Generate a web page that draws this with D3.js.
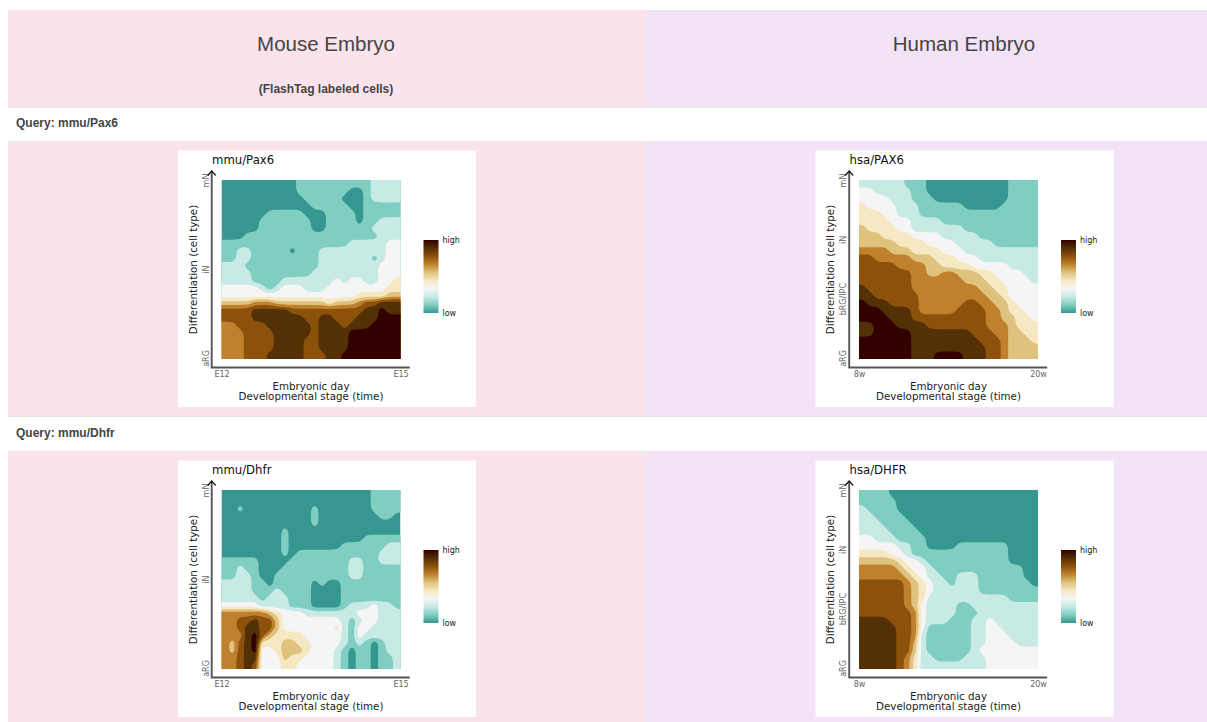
<!DOCTYPE html>
<html>
<head>
<meta charset="utf-8">
<script src="https://cdn.jsdelivr.net/npm/d3@7"></script>
<style>
  body { margin: 0; background: #fff; }
  svg { display: block; }
  .page { font-family: "Liberation Sans", Arial, sans-serif; }
  .plot text { font-family: "DejaVu Sans", sans-serif; }
</style>
</head>
<body>
<div id="chart"></div>
<script>
// expression level bands, low to high
var levelColors = ["#35978f", "#80cdc1", "#c7eae5", "#f5f5f5", "#f6e8c3", "#dfc27d", "#bf812d", "#8c510a", "#543005", "#330000"];
var thresholds = [-1, 0.5, 1.5, 2.5, 3.5, 4.5, 5.5, 6.5, 7.5, 8.5];

var mouseStages = ["E12", "E15"];
var humanStages = ["8w", "20w"];
var mouseCells = ["aRG", "iN", "mN"];
var humanCells = ["aRG", "bRG/IPC", "iN", "mN"];
var legendLabels = ["low", "high"];

// 24 x 24 cells, top row first
var mmuPax6 = [
  [0,0,0,0,0,0,0,0,0,0,1,1,1,1,1,1,1,1,1,1,2,2,2,2],
  [0,0,0,0,0,0,0,0,0,0,1,1,1,1,1,1,1,0,0,1,2,2,2,2],
  [0,0,0,0,0,0,0,0,0,0,0,1,1,1,1,1,0,0,0,1,2,2,2,2],
  [0,0,0,0,0,0,0,0,0,0,0,0,1,1,1,1,1,0,0,1,1,1,1,1],
  [0,0,0,0,0,0,1,1,1,1,1,0,0,0,1,1,1,1,0,1,1,1,1,1],
  [0,0,0,0,0,1,1,1,1,1,1,1,0,0,1,1,1,1,0,1,1,2,2,2],
  [0,0,0,0,0,1,1,1,1,1,1,1,0,0,1,1,1,1,1,1,2,2,2,2],
  [0,0,0,1,1,1,1,1,1,1,1,1,1,1,1,1,1,1,1,1,1,2,2,2],
  [1,1,1,1,1,1,1,1,1,1,1,1,1,1,1,1,1,2,2,2,2,2,3,3],
  [1,1,2,2,1,1,1,1,1,0,1,1,1,2,2,2,2,2,2,2,2,2,3,3],
  [1,1,2,2,1,1,1,1,1,1,1,1,1,2,2,2,2,2,2,2,1,2,3,3],
  [2,2,2,1,1,1,1,1,1,1,1,1,1,2,2,2,2,2,2,2,2,3,3,3],
  [2,2,2,2,1,1,1,1,1,1,1,1,2,2,2,2,2,2,2,2,2,3,3,3],
  [2,2,2,2,1,1,1,1,2,2,2,2,2,2,2,3,2,3,3,2,2,3,3,4],
  [3,3,3,3,3,2,1,2,3,3,3,2,2,2,3,3,3,3,3,3,3,3,4,4],
  [3,3,3,3,3,3,3,3,3,3,3,3,3,3,3,3,3,3,4,4,4,4,5,5],
  [5,5,5,5,6,6,6,5,5,5,5,5,5,5,4,5,5,5,6,7,7,8,8,8],
  [7,7,7,7,8,8,8,8,8,7,7,7,7,7,7,7,7,7,7,8,8,9,8,8],
  [7,7,7,7,8,8,8,8,8,8,8,7,7,8,8,7,7,7,8,8,8,9,9,9],
  [6,6,7,7,7,7,8,8,8,8,8,8,7,8,8,8,7,8,8,8,9,9,9,9],
  [6,6,6,7,7,7,7,8,8,8,8,8,7,8,8,8,8,9,9,9,9,9,9,9],
  [6,6,6,7,7,7,7,8,8,8,8,7,7,8,8,8,8,9,9,9,9,9,9,9],
  [6,6,6,7,7,7,7,8,8,8,8,7,7,8,8,8,8,9,9,9,9,9,9,9],
  [6,6,6,7,7,7,8,8,8,8,8,7,7,7,8,8,9,9,9,9,9,9,9,9]
];

var hsaPax6 = [
  [2,2,2,2,2,2,1,1,1,0,0,0,0,0,0,0,0,0,0,0,1,1,1,1],
  [3,3,2,2,2,2,2,1,1,0,0,0,0,0,0,0,0,0,0,0,1,1,1,1],
  [3,3,3,3,2,2,2,1,1,1,0,0,0,0,0,0,0,0,0,0,1,1,1,1],
  [4,3,3,3,3,2,2,2,1,1,1,1,1,1,0,0,0,0,0,1,1,1,1,1],
  [4,4,4,3,3,2,2,2,1,1,1,1,1,1,1,1,1,1,1,1,1,1,1,1],
  [4,4,4,4,3,3,3,2,2,2,2,1,1,1,1,1,1,1,1,1,1,1,1,1],
  [5,4,4,4,4,3,3,2,2,2,2,2,2,2,1,1,1,1,1,1,1,1,1,1],
  [5,5,5,4,4,4,4,3,3,3,3,2,2,2,2,2,1,1,1,1,1,1,1,1],
  [5,5,5,5,5,4,4,4,4,3,3,3,3,2,2,2,2,2,1,1,1,1,1,1],
  [6,6,6,6,5,5,5,4,4,4,4,3,3,3,2,2,2,2,2,2,2,2,2,2],
  [7,7,6,6,6,6,6,5,5,5,4,4,4,3,3,3,2,2,2,2,2,2,2,2],
  [7,7,7,7,7,6,6,6,6,5,5,4,4,4,4,3,3,3,3,3,2,2,2,2],
  [7,7,7,7,7,7,7,6,6,5,5,6,6,5,5,5,4,4,3,3,3,3,2,2],
  [7,7,7,7,7,7,7,6,6,6,6,6,6,6,5,5,5,4,4,3,3,3,3,2],
  [8,7,7,7,7,7,7,6,6,6,6,6,6,6,6,6,5,5,4,4,3,3,3,3],
  [8,8,7,7,7,7,7,7,6,6,6,6,6,6,6,6,6,5,5,4,3,3,3,3],
  [9,8,8,8,7,7,7,7,6,6,6,6,6,6,7,7,6,6,5,5,4,3,3,3],
  [9,9,9,8,8,8,8,7,6,6,6,6,6,7,7,7,7,6,6,5,4,4,3,3],
  [9,9,9,9,8,8,8,7,7,7,7,7,7,7,7,7,7,6,6,5,5,4,4,3],
  [8,8,9,9,9,8,8,8,8,7,7,7,7,7,7,7,7,6,6,6,5,4,4,4],
  [8,8,9,9,9,9,9,8,8,8,8,8,8,8,8,7,7,7,6,6,5,5,4,4],
  [9,9,9,9,9,9,9,8,8,8,8,8,8,8,8,8,7,7,7,6,5,5,5,4],
  [9,9,9,9,9,9,9,8,8,8,8,8,8,8,8,8,8,7,7,6,5,5,5,5],
  [9,9,9,9,9,9,9,8,8,8,9,9,9,9,8,8,8,7,7,6,5,5,5,5]
];

var mmuDhfr = [
  [0,0,0,0,0,0,0,0,0,0,0,0,0,0,0,0,0,0,0,0,1,1,1,1],
  [0,0,0,0,0,0,0,0,0,0,0,0,0,0,0,0,0,0,0,0,1,1,1,1],
  [0,0,1,0,0,0,0,0,0,0,0,0,1,0,0,0,0,0,0,0,1,1,1,1],
  [0,0,0,0,0,0,0,0,0,0,0,0,1,0,0,0,0,0,0,0,0,1,1,0],
  [0,0,0,0,0,0,0,0,0,0,0,0,1,0,0,0,0,0,0,0,0,0,0,0],
  [0,0,0,0,0,0,0,0,1,0,0,0,0,0,0,0,0,0,0,0,0,0,0,0],
  [0,0,0,0,0,0,0,0,1,0,0,0,0,0,0,0,0,0,0,1,1,1,1,1],
  [0,0,0,0,0,0,0,0,1,0,0,0,0,0,0,0,1,1,1,1,1,1,2,2],
  [0,0,0,0,0,0,0,0,1,0,1,1,1,1,1,1,1,1,1,1,1,2,2,2],
  [1,1,1,1,1,0,0,0,0,1,1,1,1,1,1,1,1,2,2,1,1,2,2,2],
  [1,1,2,1,1,0,0,0,1,1,1,1,1,1,1,1,1,2,2,1,1,1,1,1],
  [1,1,2,2,1,0,0,1,1,1,1,1,1,1,1,1,1,2,2,1,1,1,1,1],
  [2,2,2,2,1,1,0,1,1,1,1,1,0,1,0,0,1,1,1,1,1,1,1,1],
  [2,2,2,2,1,1,1,2,1,1,1,1,0,0,0,0,1,1,1,1,1,1,1,1],
  [2,2,2,2,2,1,2,2,2,1,1,1,0,0,0,0,1,1,1,1,1,1,1,1],
  [3,3,3,3,3,2,2,2,2,1,1,1,0,0,0,0,1,2,2,2,3,2,2,1],
  [6,6,6,6,6,6,5,4,3,3,3,2,2,2,2,2,2,2,3,3,3,2,2,2],
  [6,6,7,7,8,7,7,5,3,3,3,3,3,3,3,3,2,1,2,3,3,2,2,2],
  [6,6,7,8,8,7,7,5,3,3,3,3,3,3,3,4,2,1,3,3,2,2,2,2],
  [6,6,6,8,9,7,5,4,4,4,4,3,3,3,3,3,2,1,3,2,2,2,2,2],
  [6,5,7,8,9,4,4,4,5,5,4,4,3,3,3,3,2,1,2,1,0,1,2,2],
  [6,5,7,8,9,3,3,4,5,5,5,4,3,3,3,2,1,0,1,1,0,1,2,2],
  [6,6,7,8,8,3,3,3,5,4,4,3,3,3,3,2,1,0,1,1,0,1,1,2],
  [6,6,7,8,7,3,3,3,4,4,3,3,3,3,3,2,1,0,1,1,0,1,1,2]
];

var hsaDhfr = [
  [1,1,1,1,0,0,0,0,0,0,0,0,0,0,0,0,0,0,0,0,0,0,0,0],
  [1,1,1,1,1,0,0,0,0,0,0,0,0,0,0,0,0,0,0,0,0,0,0,0],
  [2,1,1,1,1,0,0,0,0,0,0,0,0,0,0,0,0,0,0,0,0,0,0,0],
  [2,2,1,1,1,1,0,0,0,0,0,0,0,0,0,0,0,0,0,0,0,0,0,0],
  [2,2,2,1,1,1,1,0,0,0,0,0,0,0,0,0,0,0,0,0,0,0,0,0],
  [2,2,2,2,1,1,1,1,0,0,0,0,0,0,0,0,0,0,0,0,0,0,0,0],
  [3,3,2,2,2,1,1,1,1,0,0,0,0,0,0,0,0,0,0,0,0,0,0,0],
  [3,3,3,3,3,2,2,1,1,0,0,0,0,1,1,1,1,1,1,1,0,0,0,0],
  [4,4,4,4,3,3,2,1,1,1,1,1,1,1,1,1,1,1,1,1,0,0,0,0],
  [5,5,5,5,5,4,3,3,2,1,1,1,1,1,1,1,1,1,1,1,0,0,0,0],
  [6,6,6,6,6,5,4,3,3,2,1,1,1,1,1,1,1,1,1,1,1,1,0,0],
  [6,6,6,6,6,6,5,4,3,2,2,1,1,2,2,2,1,1,1,1,1,1,0,0],
  [7,7,7,7,7,7,6,5,4,3,2,2,1,2,2,2,1,1,1,1,1,1,1,0],
  [7,7,7,7,7,7,6,5,4,3,2,2,2,2,2,2,1,1,1,1,1,1,1,1],
  [7,7,7,7,7,7,6,5,4,2,2,2,2,2,2,2,2,2,2,2,1,1,1,1],
  [7,7,7,7,7,7,6,5,3,2,2,2,2,1,1,2,2,2,2,2,2,2,2,2],
  [7,7,7,7,7,7,7,6,3,2,2,2,2,1,1,1,2,2,2,2,2,2,2,2],
  [8,8,8,8,7,7,7,6,3,2,2,2,1,1,1,2,2,3,2,2,2,2,2,2],
  [8,8,8,8,8,7,7,6,3,1,1,1,1,1,1,2,2,3,3,2,2,2,2,2],
  [8,8,8,8,8,7,7,6,2,1,1,1,1,1,1,2,2,3,3,3,2,2,2,2],
  [8,8,8,8,8,7,7,5,2,1,1,1,1,1,1,2,2,3,3,3,3,2,2,2],
  [8,8,8,8,8,7,7,5,2,1,1,1,1,1,1,2,3,3,3,3,3,3,3,3],
  [8,8,8,8,8,7,6,4,2,2,1,1,1,1,2,2,2,3,3,3,3,3,3,3],
  [8,8,8,8,8,7,6,4,2,2,2,2,2,2,2,2,2,3,3,3,3,3,3,3]
];

var svg = d3.select("#chart").append("svg")
    .attr("width", 1207)
    .attr("height", 722);

var pink = "#fbe3ec";
var lilac = "#f3e3f6";
var rule = "#ebe4e8";

// table stripes behind the plots
[[10, 97], [142, 274], [452, 270]].forEach(function(r) {
    svg.append("rect").attr("x", 8).attr("y", r[0]).attr("width", 637).attr("height", r[1]).attr("fill", pink);
    svg.append("rect").attr("x", 645).attr("y", r[0]).attr("width", 562).attr("height", r[1]).attr("fill", lilac);
});
[107, 141, 416, 451].forEach(function(y) {
    svg.append("line").attr("x1", 8).attr("x2", 1207).attr("y1", y + 0.5).attr("y2", y + 0.5).attr("stroke", rule);
});

var page = svg.append("g").attr("class", "page");
page.append("text").attr("x", 326).attr("y", 51).attr("text-anchor", "middle")
    .attr("font-size", 20.5).attr("fill", "#444").text("Mouse Embryo");
page.append("text").attr("x", 964).attr("y", 51).attr("text-anchor", "middle")
    .attr("font-size", 20.5).attr("fill", "#444").text("Human Embryo");
page.append("text").attr("x", 326).attr("y", 93).attr("text-anchor", "middle")
    .attr("font-size", 12).attr("font-weight", "bold").attr("fill", "#444").text("(FlashTag labeled cells)");
page.append("text").attr("x", 16).attr("y", 127)
    .attr("font-size", 12).attr("font-weight", "bold").attr("fill", "#444").text("Query: mmu/Pax6");
page.append("text").attr("x", 16).attr("y", 437)
    .attr("font-size", 12).attr("font-weight", "bold").attr("fill", "#444").text("Query: mmu/Dhfr");

var defs = svg.append("defs");
var legendPos = d3.scaleLinear().domain([0, levelColors.length - 1]).range([0, 100]);
var grad = defs.append("linearGradient").attr("id", "legend-grad")
    .attr("x1", 0).attr("x2", 0).attr("y1", 1).attr("y2", 0);
grad.selectAll("stop")
    .data(levelColors)
    .enter().append("stop")
    .attr("offset", function(d, i) { return legendPos(i) + "%"; })
    .attr("stop-color", function(d) { return d; });

// repeat the edge cells so bands run off the plot instead of closing inside it
function padGrid(grid) {
    var rows = grid.map(function(r) { return [r[0]].concat(r, [r[r.length - 1]]); });
    return [rows[0]].concat(rows, [rows[rows.length - 1]]);
}

var plotId = 0;

function drawPlot(left, top, title, grid, stages, cells) {
    var g = svg.append("g").attr("class", "plot").attr("transform", "translate(" + left + "," + top + ")");
    var size = 179;
    var ox = 43.5, oy = 29.5; // plot area inside the white card
    var ny = grid.length, nx = grid[0].length;
    var clipId = "plot-clip-" + (plotId++);

    g.append("rect").attr("width", 298).attr("height", 256.5).attr("fill", "#fff");
    g.append("clipPath").attr("id", clipId).append("rect")
        .attr("x", ox).attr("y", oy).attr("width", size).attr("height", size);

    var x = d3.scaleLinear().domain([1, nx + 1]).range([ox, ox + size]);
    var y = d3.scaleLinear().domain([1, ny + 1]).range([oy, oy + size]);
    var ring = d3.line()
        .x(function(d) { return x(d[0]); })
        .y(function(d) { return y(d[1]); })
        .curve(d3.curveBasisClosed);
    var contours = d3.contours().size([nx + 2, ny + 2]).thresholds(thresholds)(d3.merge(padGrid(grid)));

    var bands = g.append("g").attr("clip-path", "url(#" + clipId + ")");
    bands.selectAll("path.band")
        .data(contours)
        .enter().append("path")
        .attr("class", "band")
        .attr("fill-rule", "evenodd")
        .attr("d", function(d, i) {
            // lowest band fills the plot, its outline must keep square corners
            if (i === 0) return "M" + ox + "," + oy + "h" + size + "v" + size + "h" + (-size) + "z";
            return d.coordinates.map(function(poly) {
                return poly.map(function(r) { return ring(r.slice(0, -1)); }).join("");
            }).join("");
        })
        .attr("fill", function(d, i) { return levelColors[i]; });

    var axisX = ox - 9.8, axisY = oy + size + 8.5;

    // bottom axis
    var xStage = d3.scalePoint().domain(stages).range([ox, ox + size]);
    var bottom = g.append("g").attr("transform", "translate(0," + axisY + ")")
        .call(d3.axisBottom(xStage).tickSize(0).tickPadding(4));
    bottom.select(".domain").remove();
    bottom.selectAll("text").attr("font-size", 8).attr("fill", "#666").attr("font-family", "DejaVu Sans");

    // left axis, labels turned on their side
    var yCell = d3.scalePoint().domain(cells).range([oy + size - 1, oy]);
    var leftAxis = g.append("g").attr("transform", "translate(" + (ox - 13) + ",0)")
        .call(d3.axisLeft(yCell).tickSize(0));
    leftAxis.select(".domain").remove();
    leftAxis.selectAll("text")
        .attr("x", 0).attr("dy", 0).attr("text-anchor", "middle")
        .attr("transform", "rotate(-90)")
        .attr("font-size", 8).attr("fill", "#666").attr("font-family", "DejaVu Sans");

    // axis arrow
    g.append("path")
        .attr("d", d3.line()([[axisX + size + 19, axisY], [axisX, axisY], [axisX, oy - 8.5]]))
        .attr("fill", "none").attr("stroke", "#555").attr("stroke-width", 1.9);
    g.append("path")
        .attr("d", d3.line()([[axisX - 4, oy - 4.5], [axisX, oy - 9], [axisX + 4, oy - 4.5]]))
        .attr("fill", "none").attr("stroke", "#111").attr("stroke-width", 1.2);

    g.append("text").attr("x", ox - 9.5).attr("y", oy - 16)
        .attr("font-size", 11.7).attr("fill", "#111").text(title);
    g.append("text").attr("x", ox + size / 2).attr("y", oy + size + 31)
        .attr("text-anchor", "middle").attr("font-size", 10.3).attr("fill", "#222").text("Embryonic day");
    g.append("text").attr("x", ox + size / 2).attr("y", oy + size + 41)
        .attr("text-anchor", "middle").attr("font-size", 10.3).attr("fill", "#222").text("Developmental stage (time)");
    g.append("text").attr("transform", "translate(" + (ox - 25) + "," + (oy + size / 2) + ") rotate(-90)")
        .attr("text-anchor", "middle").attr("font-size", 10.3).attr("fill", "#222").text("Differentiation (cell type)");

    // colour legend
    var yLegend = d3.scalePoint().domain(legendLabels).range([oy + 133, oy + 60]);
    g.append("rect").attr("x", ox + 202).attr("y", oy + 60).attr("width", 15).attr("height", 73)
        .attr("fill", "url(#legend-grad)");
    var legend = g.append("g").attr("transform", "translate(" + (ox + 221) + ",0)")
        .call(d3.axisRight(yLegend).tickSize(0).tickPadding(0));
    legend.select(".domain").remove();
    legend.selectAll("text").attr("font-size", 8).attr("fill", "#222").attr("font-family", "DejaVu Sans");
}

drawPlot(178, 150.5, "mmu/Pax6", mmuPax6, mouseStages, mouseCells);
drawPlot(815.5, 150.5, "hsa/PAX6", hsaPax6, humanStages, humanCells);
drawPlot(178, 460.5, "mmu/Dhfr", mmuDhfr, mouseStages, mouseCells);
drawPlot(815.5, 460.5, "hsa/DHFR", hsaDhfr, humanStages, humanCells);
</script>
</body>
</html>
